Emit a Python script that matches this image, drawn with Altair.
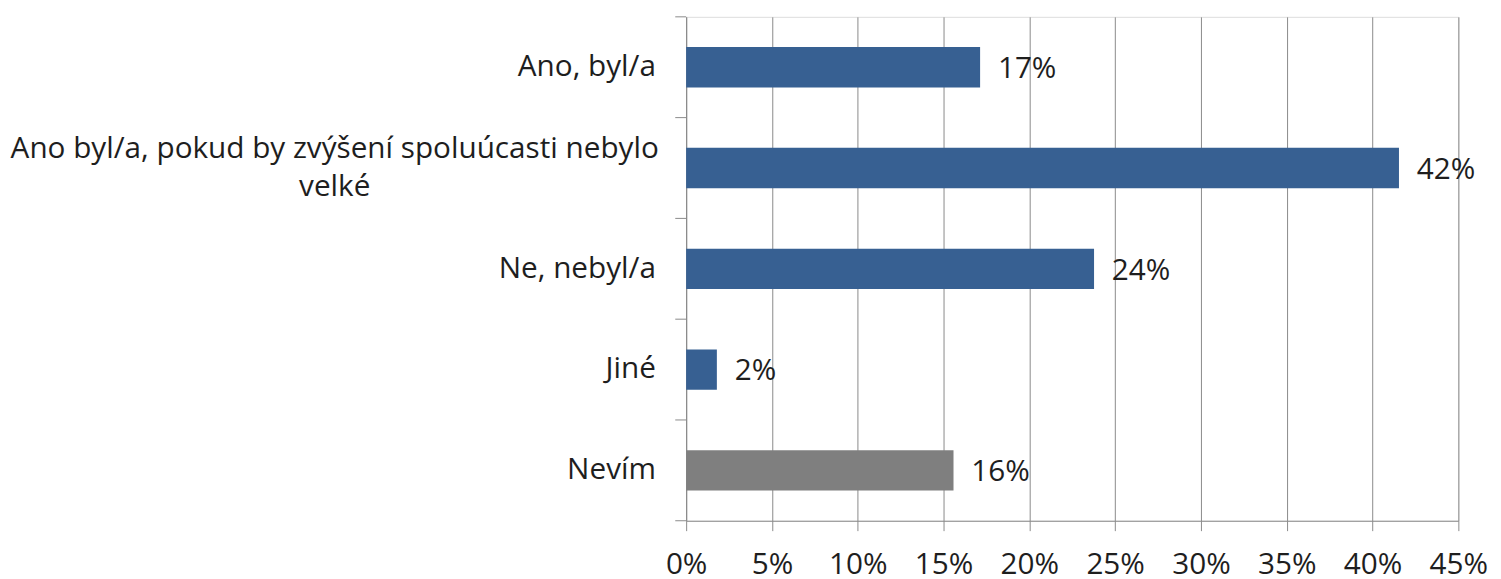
import altair as alt
import pandas as pd

categories = [
    "Ano, byl/a",
    "Ano byl/a, pokud by zvýšení spoluúcasti nebylo velké",
    "Ne, nebyl/a",
    "Jiné",
    "Nevím",
]
long_label_lines = ["Ano byl/a, pokud by zvýšení spoluúcasti nebylo", "velké"]
values = [0.1713, 0.4154, 0.2377, 0.0179, 0.1558]
groups = ["odpověď", "odpověď", "odpověď", "odpověď", "nevím"]
x_ticks = [0, 0.05, 0.10, 0.15, 0.20, 0.25, 0.30, 0.35, 0.40, 0.45]

df = pd.DataFrame({
    "kategorie": categories,
    "hodnota": values,
    "skupina": groups,
})
long_df = pd.DataFrame({
    "kategorie": [categories[1], categories[1]],
    "radek": long_label_lines,
    "poradi": [0, 1],
})
last_df = pd.DataFrame({"kategorie": [categories[-1]]})

FONT = "Open Sans"
FS = 30
TXT = "#1e1e1e"
GRID = "#8a8a8a"
HALF_STEP = 509 / 5 / 2

y_enc = alt.Y(
    "kategorie:N",
    sort=categories,
    title=None,
    scale=alt.Scale(paddingInner=0.6, paddingOuter=0.3),
    axis=alt.Axis(
        ticks=False,
        domainColor=GRID,
        labelPadding=31,
        labelFont=FONT,
        labelFontSize=FS,
        labelColor=TXT,
        labelLimit=800,
        labelExpr="indexof(datum.value, 'pokud') >= 0 ? '' : datum.label",
    ),
)

x_enc = alt.X(
    "hodnota:Q",
    title=None,
    scale=alt.Scale(domain=[0, 0.45]),
    axis=alt.Axis(
        values=x_ticks,
        format=".0%",
        gridColor=GRID,
        tickSize=10,
        tickColor=GRID,
        domainColor=GRID,
        labelPadding=19,
        labelFlush=False,
        labelFont=FONT,
        labelFontSize=FS,
        labelColor=TXT,
    ),
)

base = alt.Chart(df)

bars = base.mark_bar().encode(
    x=x_enc,
    y=y_enc,
    color=alt.Color(
        "skupina:N",
        scale=alt.Scale(domain=["odpověď", "nevím"], range=["#376092", "#7f7f7f"]),
        legend=None,
    ),
)

value_labels = base.mark_text(
    align="left", baseline="middle", dx=18, dy=2, font=FONT, fontSize=FS, color=TXT
).encode(
    x=alt.X("hodnota:Q"),
    y=alt.Y("kategorie:N", sort=categories),
    text=alt.Text("hodnota:Q", format=".0%"),
)

# y-axis ticks at category boundaries
ticks_top = base.mark_rule(color=GRID, strokeWidth=1, yOffset=-HALF_STEP).encode(
    x=alt.value(-11),
    x2=alt.value(0),
    y=alt.Y("kategorie:N", sort=categories),
)
ticks_bottom = alt.Chart(last_df).mark_rule(color=GRID, strokeWidth=1, yOffset=HALF_STEP).encode(
    x=alt.value(-11),
    x2=alt.value(0),
    y=alt.Y("kategorie:N", sort=categories),
)

long_text = alt.Chart(long_df)
line1 = long_text.transform_filter(alt.datum.poradi == 0).mark_text(
    align="center", baseline="middle", dy=-19, font=FONT, fontSize=FS, color=TXT
).encode(
    x=alt.value(-355),
    y=alt.Y("kategorie:N", sort=categories),
    text="radek:N",
)
line2 = long_text.transform_filter(alt.datum.poradi == 1).mark_text(
    align="center", baseline="middle", dy=19, font=FONT, fontSize=FS, color=TXT
).encode(
    x=alt.value(-355),
    y=alt.Y("kategorie:N", sort=categories),
    text="radek:N",
)

chart = alt.layer(bars, value_labels, ticks_top, ticks_bottom, line1, line2).properties(
    width=780,
    height=509,
    padding={"left": 2, "top": 5, "right": 5, "bottom": 5},
)

chart.save("out.html", embed_options={"renderer": "svg", "actions": False})
